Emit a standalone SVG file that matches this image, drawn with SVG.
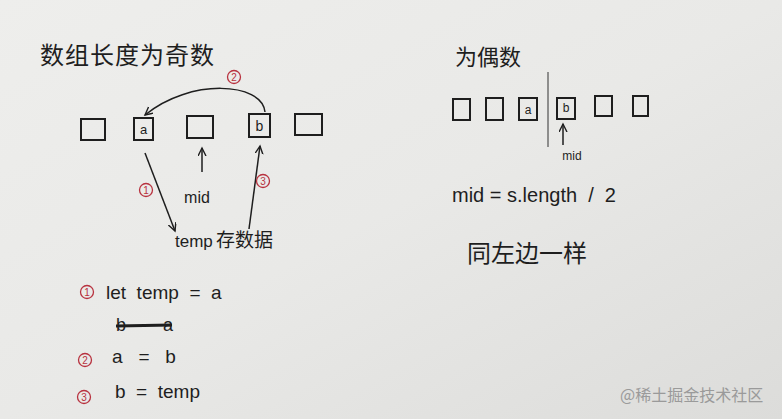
<svg xmlns="http://www.w3.org/2000/svg" width="782" height="419" viewBox="0 0 782 419">
<defs>
<linearGradient id="bg" x1="0" y1="0" x2="1" y2="1">
<stop offset="0" stop-color="#eeeeec"/>
<stop offset="0.5" stop-color="#e9e9e7"/>
<stop offset="1" stop-color="#dcdcda"/>
</linearGradient>
<marker id="ah" markerWidth="10" markerHeight="10" refX="8" refY="4" orient="auto" markerUnits="userSpaceOnUse">
<path d="M0,0 L8,4 L0,8" fill="none" stroke="#1e1e1e" stroke-width="1.4"/>
</marker>
<style>
.t{font-family:"Liberation Sans","Noto Sans CJK SC",sans-serif;fill:#1e1e1e}
.cn{font-family:"Noto Sans CJK SC",sans-serif;fill:#1e1e1e}
.bx{fill:none;stroke:#1e1e1e;stroke-width:2}
.ln{fill:none;stroke:#1e1e1e;stroke-width:1.5}
.rc{fill:none;stroke:#b8323f;stroke-width:1.3}
.rt{font-family:"Liberation Sans",sans-serif;fill:#b8323f;font-size:10px;text-anchor:middle}
</style>
</defs>
<rect width="782" height="419" fill="url(#bg)"/>

<g id="title-odd"><text class="cn" x="40" y="64" font-size="24" letter-spacing="1">数组长度为奇数</text></g>
<g id="title-even"><text class="cn" x="455" y="65" font-size="22">为偶数</text></g>

<g id="odd-box1"><rect class="bx" x="81" y="119" width="24" height="21"/></g>
<g id="odd-box-a"><rect class="bx" x="134" y="118" width="19" height="22"/><text class="t" x="143.5" y="134" font-size="13" text-anchor="middle">a</text></g>
<g id="odd-box-mid"><rect class="bx" x="187" y="116" width="26" height="22"/></g>
<g id="odd-box-b"><rect class="bx" x="249" y="114" width="21" height="23"/><text class="t" x="259.5" y="131" font-size="14" text-anchor="middle">b</text></g>
<g id="odd-box5"><rect class="bx" x="295" y="114" width="27" height="21"/></g>

<g id="label-mid-odd"><text class="t" x="197" y="203" font-size="16" text-anchor="middle">mid</text></g>
<g id="label-temp"><text class="t" x="175" y="247" font-size="17">temp</text><text class="cn" x="216" y="247" font-size="19">存数据</text></g>

<g id="even-box1"><rect class="bx" x="453" y="99" width="17" height="21"/></g>
<g id="even-box2"><rect class="bx" x="486" y="98" width="17" height="22"/></g>
<g id="even-box-a"><rect class="bx" x="519" y="98" width="18" height="22"/><text class="t" x="528" y="114" font-size="12" text-anchor="middle">a</text></g>
<g id="even-box-b"><rect class="bx" x="557" y="98" width="18" height="21"/><text class="t" x="566" y="112" font-size="12" text-anchor="middle">b</text></g>
<g id="even-box5"><rect class="bx" x="595" y="96" width="17" height="20"/></g>
<g id="even-box6"><rect class="bx" x="633" y="96" width="15" height="20"/></g>
<g id="label-mid-even"><text class="t" x="572" y="160" font-size="12" text-anchor="middle">mid</text></g>

<g id="formula"><text class="t" x="452" y="202" font-size="20" xml:space="preserve">mid = s.length  /  2</text></g>
<g id="same-left"><text class="cn" x="467" y="262" font-size="24">同左边一样</text></g>

<g id="steps">
<circle class="rc" cx="87" cy="292" r="6.5"/><text class="rt" x="87" y="295.5">1</text>
<text class="t" x="106" y="299" font-size="19" xml:space="preserve">let  temp  =  a</text>
<text class="t" x="116" y="331" font-size="18">b</text><text class="t" x="163" y="331" font-size="18">a</text>
<line x1="116" y1="326" x2="172" y2="325" stroke="#1e1e1e" stroke-width="3"/>
<circle class="rc" cx="85" cy="360" r="6.5"/><text class="rt" x="85" y="363.5">2</text>
<text class="t" x="112" y="363" font-size="19" xml:space="preserve">a   =   b</text>
<circle class="rc" cx="84" cy="397" r="6.5"/><text class="rt" x="84" y="400.5">3</text>
<text class="t" x="115" y="398" font-size="19" xml:space="preserve">b  =  temp</text>
</g>

<g id="connectors">
<path class="ln" d="M265,112 C262,82 190,78 145,115" marker-end="url(#ah)"/>
<circle class="rc" cx="234" cy="77" r="6.5"/><text class="rt" x="234" y="80.5">2</text>
<line class="ln" x1="145" y1="153" x2="175" y2="231" marker-end="url(#ah)"/>
<circle class="rc" cx="146" cy="190" r="6.5"/><text class="rt" x="146" y="193.5">1</text>
<line class="ln" x1="202" y1="172" x2="202" y2="148" marker-end="url(#ah)"/>
<line class="ln" x1="249" y1="229" x2="260" y2="146" marker-end="url(#ah)"/>
<circle class="rc" cx="263" cy="181" r="6.5"/><text class="rt" x="263" y="184.5">3</text>
<line x1="548" y1="72" x2="548" y2="147" stroke="#333" stroke-width="1"/>
<line class="ln" x1="563" y1="145" x2="563" y2="124" marker-end="url(#ah)" stroke-width="1.1"/>
</g>

<g id="watermark"><text x="620" y="401" font-family="Noto Sans CJK SC,sans-serif" font-size="16" fill="#9a9a9a">@稀土掘金技术社区</text></g>
</svg>
